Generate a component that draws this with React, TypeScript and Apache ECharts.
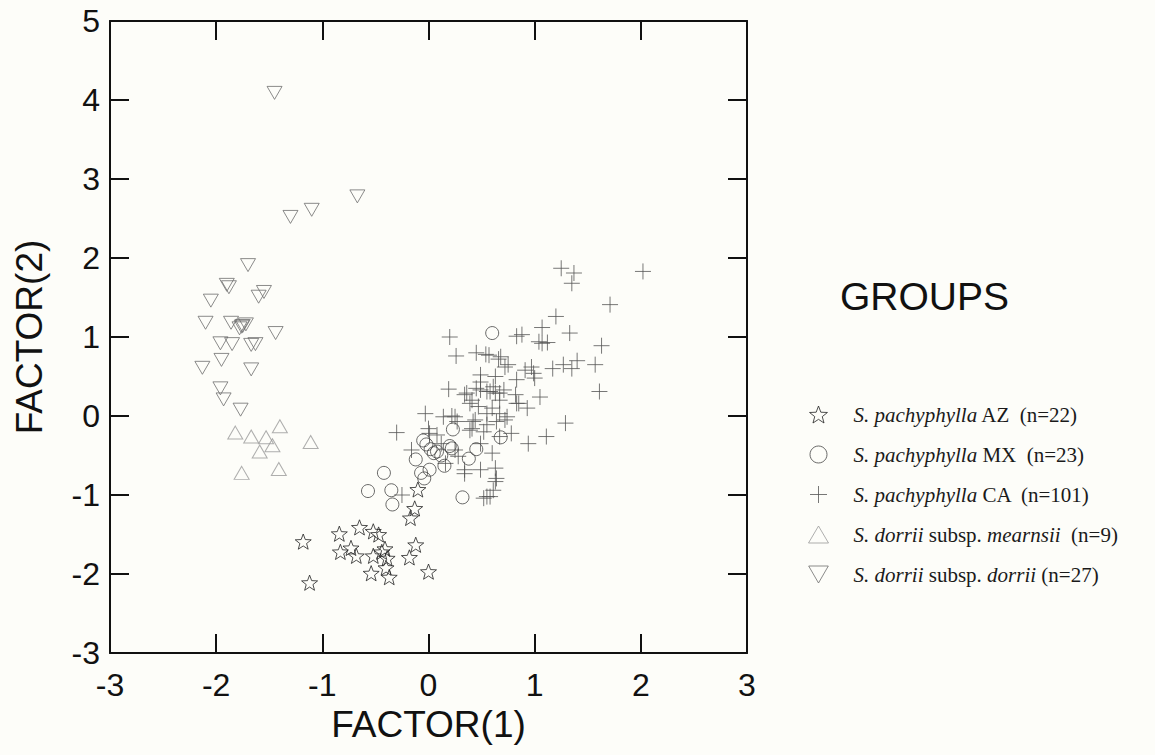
import React, { useEffect, useRef } from "react";
import * as echarts from "echarts";

// ---- data (FACTOR(1), FACTOR(2)) ----
const starAZ: number[][] = [
  [-1.18, -1.59], [-1.12, -2.11], [-0.84, -1.49], [-0.65, -1.41], [-0.52, -1.46],
  [-0.47, -1.5], [-0.83, -1.72], [-0.73, -1.67], [-0.68, -1.77], [-0.52, -1.77],
  [-0.44, -1.72], [-0.41, -1.68], [-0.39, -1.8], [-0.4, -1.92], [-0.54, -1.99],
  [-0.37, -2.04], [-0.18, -1.79], [-0.12, -1.63], [0.0, -1.97], [-0.17, -1.29],
  [-0.13, -1.17], [-0.1, -0.93],
];

const circleMX: number[][] = [
  [0.6, 1.05], [-0.42, -0.72], [-0.57, -0.95], [-0.35, -0.94], [-0.34, -1.12],
  [-0.12, -0.55], [-0.07, -0.72], [-0.05, -0.31], [0.02, -0.42], [0.01, -0.68],
  [-0.04, -0.79], [0.08, -0.45], [0.15, -0.63], [0.23, -0.17], [0.22, -0.41],
  [0.38, -0.54], [0.45, -0.42], [0.68, -0.27], [0.32, -1.03], [0.05, -0.47],
  [0.2, -0.38], [-0.02, -0.36], [0.12, -0.5],
];

const crossCA: number[][] = [
  [1.25, 1.87], [1.37, 1.81], [1.35, 1.68], [2.02, 1.83], [1.71, 1.41],
  [1.2, 1.26], [1.07, 1.12], [1.33, 1.05], [1.04, 0.94], [1.12, 0.93],
  [1.63, 0.89], [0.97, 0.62], [1.17, 0.6], [1.27, 0.65], [1.35, 0.6],
  [1.4, 0.7], [1.57, 0.65], [1.0, 0.48], [1.05, 0.24], [1.61, 0.31],
  [0.93, 0.1], [1.29, -0.09], [1.11, -0.26], [0.94, -0.35], [0.88, 1.03],
  [0.2, 1.0], [0.83, 1.01], [1.07, 0.92], [0.26, 0.76], [0.45, 0.8],
  [0.54, 0.78], [0.66, 0.72], [0.72, 0.62], [0.49, 0.52], [0.63, 0.5],
  [0.19, 0.34], [0.34, 0.27], [0.45, 0.35], [0.55, 0.31], [0.63, 0.29],
  [0.71, 0.33], [0.82, 0.27], [0.83, 0.16], [0.39, 0.16], [-0.03, 0.03],
  [0.14, -0.01], [0.22, 0.0], [0.42, -0.07], [0.39, -0.18], [0.55, -0.11],
  [0.64, -0.07], [0.72, -0.05], [0.78, -0.22], [-0.3, -0.21], [-0.16, -0.43],
  [0.08, -0.24], [0.12, -0.35], [0.28, -0.51], [0.34, -0.68], [0.49, -0.68],
  [0.6, -0.47], [0.63, -0.66], [0.64, -0.79], [0.61, -0.94], [0.55, -1.02],
  [0.16, -0.6], [-0.25, -1.0], [0.49, -0.35], [0.55, 0.03], [0.27, -0.07],
  [0.67, 0.03], [0.49, 0.43], [0.83, 0.46], [0.99, 0.54], [0.61, 0.37],
  [0.67, 0.29], [0.57, 0.77], [0.68, 0.75], [0.75, 0.65], [0.91, 0.58],
  [0.36, 0.29], [0.49, 0.33], [0.58, 0.31], [0.67, 0.2], [0.85, 0.16],
  [0.41, 0.2], [0.25, -0.01], [0.44, -0.05], [0.74, -0.01], [0.0, -0.16],
  [0.41, -0.16], [0.52, -0.2], [0.34, -0.73], [0.63, -0.83], [0.58, -1.02],
  [0.52, -1.04], [0.67, -0.26], [0.25, -0.43], [0.01, -0.22], [0.6, 0.1],
  [0.47, 0.12],
];

const triUpMearnsii: number[][] = [
  [-1.82, -0.21], [-1.67, -0.26], [-1.53, -0.27], [-1.4, -0.13], [-1.47, -0.37],
  [-1.59, -0.45], [-1.11, -0.33], [-1.76, -0.72], [-1.41, -0.67],
];

const triDownDorrii: number[][] = [
  [-1.45, 4.09], [-0.67, 2.78], [-1.3, 2.52], [-1.1, 2.61], [-1.7, 1.91],
  [-1.9, 1.66], [-1.88, 1.63], [-1.55, 1.57], [-1.6, 1.51], [-2.05, 1.46],
  [-2.1, 1.18], [-1.86, 1.18], [-1.78, 1.11], [-1.72, 1.16], [-1.75, 1.14],
  [-1.44, 1.05], [-1.96, 0.92], [-1.85, 0.91], [-1.67, 0.9], [-1.63, 0.91],
  [-2.13, 0.61], [-1.95, 0.71], [-1.67, 0.59], [-1.96, 0.35], [-1.93, 0.21],
  [-1.77, 0.08], [-1.76, 1.13],
];

const xTicks = { min: -3, max: 3, interval: 1 };
const yTicks = { min: -3, max: 5, interval: 1 };

const groupNames = ["AZ", "MX", "CA", "mearnsii", "dorrii"];
const groupLabels: Record<string, string> = {
  AZ: "{sp|}{i|S. pachyphylla} AZ  (n=22)",
  MX: "{sp|}{i|S. pachyphylla} MX  (n=23)",
  CA: "{sp|}{i|S. pachyphylla} CA  (n=101)",
  mearnsii: "{sp|}{i|S. dorrii} subsp. {i|mearnsii}  (n=9)",
  dorrii: "{sp|}{i|S. dorrii} subsp. {i|dorrii} (n=27)",
};

// ---- symbol shapes ----
const STAR =
  "path://M0,-1 L0.2469,-0.3398 L0.9511,-0.309 L0.3995,0.1298 L0.5878,0.809 L0,0.42 L-0.5878,0.809 L-0.3995,0.1298 L-0.9511,-0.309 L-0.2469,-0.3398 Z";
const CROSS = "path://M5,0 L5,10 M0,5 L10,5";
const TRI_DOWN = "path://M0,0 L10,0 L5,8.66 Z";

const SANS = "'Liberation Sans', Arial, Helvetica, sans-serif";
const SERIF = "'Liberation Serif', 'Times New Roman', serif";

export default function App() {
  const ref = useRef<HTMLDivElement>(null);

  useEffect(() => {
    if (!ref.current) return;
    const chart = echarts.init(ref.current, undefined, { renderer: "svg" });

    const axisLine = { onZero: false, lineStyle: { color: "#111", width: 2 } };
    const axisTick = { inside: true, length: 19, lineStyle: { color: "#111", width: 2 } };

    const mk = (name: string, data: number[][], symbol: string, size: any, color: string, z: number) => ({
      name,
      type: "scatter",
      data,
      symbol,
      symbolSize: size,
      symbolKeepAspect: true,
      itemStyle: { color: "transparent", borderColor: color, borderWidth: 1 },
      emphasis: { disabled: true },
      silent: true,
      z,
    });

    chart.setOption({
      animation: false,
      backgroundColor: "#fdfdf9",
      title: {
        text: "GROUPS",
        left: 835,
        top: 272,
        textStyle: { fontFamily: SANS, fontSize: 39, fontWeight: "normal", color: "#111" },
      },
      grid: { left: 110, top: 21, width: 637, height: 632 },
      xAxis: [
        {
          type: "value",
          ...xTicks,
          position: "bottom",
          axisLine,
          axisTick,
          splitLine: { show: false },
          axisLabel: { fontSize: 32, fontFamily: SANS, color: "#111", margin: 16 },
          name: "FACTOR(1)",
          nameLocation: "middle",
          nameGap: 52,
          nameTextStyle: { fontSize: 37, fontFamily: SANS, color: "#111" },
        },
        {
          type: "value",
          ...xTicks,
          position: "top",
          axisLine,
          axisTick,
          splitLine: { show: false },
          axisLabel: { show: false },
        },
      ],
      yAxis: [
        {
          type: "value",
          ...yTicks,
          position: "left",
          axisLine,
          axisTick,
          splitLine: { show: false },
          axisLabel: { fontSize: 32, fontFamily: SANS, color: "#111", margin: 10 },
          name: "FACTOR(2)",
          nameLocation: "middle",
          nameRotate: 90,
          nameGap: 62,
          nameTextStyle: { fontSize: 37, fontFamily: SANS, color: "#111" },
        },
        {
          type: "value",
          ...yTicks,
          position: "right",
          axisLine,
          axisTick,
          splitLine: { show: false },
          axisLabel: { show: false },
        },
      ],
      legend: {
        orient: "vertical",
        left: 803,
        top: 399,
        itemWidth: 20,
        itemHeight: 17,
        itemGap: 19,
        data: groupNames,
        selectedMode: false,
        itemStyle: { borderWidth: 1 },
        formatter: (n: string) => groupLabels[n],
        textStyle: {
          fontFamily: SERIF,
          fontSize: 21,
          color: "#1a1a1a",
          lineHeight: 21,
          rich: {
            sp: { width: 20 },
            i: { fontFamily: SERIF, fontSize: 21, fontStyle: "italic", color: "#1a1a1a" },
          },
        },
      },
      series: [
        mk("dorrii", triDownDorrii, TRI_DOWN, 15, "#6e6e6e", 2),
        mk("mearnsii", triUpMearnsii, "triangle", [15, 13], "#9a9a9a", 2),
        mk("CA", crossCA, CROSS, 16, "#555555", 3),
        mk("MX", circleMX, "circle", 13, "#444444", 4),
        mk("AZ", starAZ, STAR, 16, "#222222", 5),
      ],
    });

    return () => chart.dispose();
  }, []);

  return (
    <div
      ref={ref}
      style={{ position: "absolute", left: 0, top: 0, width: 1155, height: 755 }}
    />
  );
}
